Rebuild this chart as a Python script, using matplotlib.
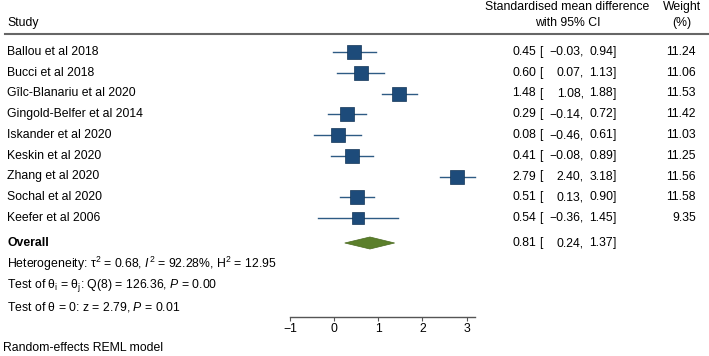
import matplotlib
matplotlib.use("Agg")
import matplotlib.pyplot as plt

plt.rcParams['font.family'] = ['Liberation Sans', 'DejaVu Sans']
plt.rcParams['mathtext.fontset'] = 'custom'
plt.rcParams['mathtext.rm'] = 'Liberation Sans'
plt.rcParams['mathtext.it'] = 'Liberation Sans:italic'
plt.rcParams['mathtext.bf'] = 'Liberation Sans:bold'

# data
studies = ["Ballou et al 2018", "Bucci et al 2018", "Gîlc-Blanariu et al 2020",
           "Gingold-Belfer et al 2014", "Iskander et al 2020", "Keskin et al 2020",
           "Zhang et al 2020", "Sochal et al 2020", "Keefer et al 2006"]
smd = [0.45, 0.60, 1.48, 0.29, 0.08, 0.41, 2.79, 0.51, 0.54]
lo = [-0.03, 0.07, 1.08, -0.14, -0.46, -0.08, 2.40, 0.13, -0.36]
hi = [0.94, 1.13, 1.88, 0.72, 0.61, 0.89, 3.18, 0.90, 1.45]
weight = [11.24, 11.06, 11.53, 11.42, 11.03, 11.25, 11.56, 11.58, 9.35]
overall = (0.81, 0.24, 1.37)
xticks = [-1, 0, 1, 2, 3]

FS = 8.8
W, H = 709, 356
fig = plt.figure(figsize=(W / 100, H / 100), dpi=100)

# background axes in pixel coords for the table text
bg = fig.add_axes([0, 0, 1, 1])
bg.set_xlim(0, W)
bg.set_ylim(H, 0)
bg.axis('off')

# plot axes: x from -1 to ~3.2, pixel 290..475; rows from pixel 40..317
top, bot = 40, 317
ax = fig.add_axes([290 / W, (H - bot) / H, (475 - 290) / W, (bot - top) / H])
ax.set_xlim(-1, 3.19)
row0, step = 52, 20.75
ax.set_ylim((bot - row0) / step, (top - row0) / step)
ax.patch.set_visible(False)
for s in ['top', 'right', 'left']:
    ax.spines[s].set_visible(False)
ax.spines['bottom'].set_color('#555555')
ax.spines['bottom'].set_linewidth(1.0)
ax.set_yticks([])
ax.set_xticks(xticks)
ax.set_xticklabels(['\u22121' if t < 0 else str(t) for t in xticks])
ax.tick_params(axis='x', length=3, width=0.8, color='#555555', labelsize=FS, pad=1.5)

blue = '#1d4b7a'
for i in range(len(studies)):
    ax.plot([lo[i], hi[i]], [i, i], color='#2e5b84', lw=1.0, zorder=2, clip_on=False)
    ax.plot(smd[i], i, marker='s', ms=10.2 * (weight[i] / 11.58) ** 0.5,
            mfc=blue, mec='#123457', mew=0.5, zorder=3, clip_on=False)

oy = (243 - row0) / step
est, olo, ohi = overall
ax.fill([olo, est, ohi, est], [oy, oy - 0.29, oy, oy + 0.29],
        color='#5b7f2b', ec='#4a6a20', lw=0.5, zorder=3, clip_on=False)

# header
bg.text(7, 23, "Study", fontsize=FS, va='center')
bg.text(567, 7, "Standardised mean difference", fontsize=FS, va='center', ha='center')
bg.text(568, 23, "with 95% CI", fontsize=FS, va='center', ha='center')
bg.text(682, 7, "Weight", fontsize=FS, va='center', ha='center')
bg.text(682, 23, "(%)", fontsize=FS, va='center', ha='center')
bg.plot([5, W], [33.5, 33.5], color='#666666', lw=1.5)


def fmt(v):
    return f"{v:.2f}".replace('-', '\u2212')


def ci_row(y, e, l, h):
    bg.text(536, y, fmt(e), fontsize=FS, va='center', ha='right')
    bg.text(539, y, "[", fontsize=FS, va='center', ha='left')
    bg.text(584, y, fmt(l) + ",", fontsize=FS, va='center', ha='right')
    bg.text(613, y, fmt(h), fontsize=FS, va='center', ha='right')
    bg.text(613, y, "]", fontsize=FS, va='center', ha='left')


for i, name in enumerate(studies):
    y = row0 + step * i
    bg.text(7, y, name, fontsize=FS, va='center')
    ci_row(y, smd[i], lo[i], hi[i])
    bg.text(696, y, f"{weight[i]:.2f}", fontsize=FS, va='center', ha='right')

bg.text(7, 243, "Overall", fontsize=FS, va='center', fontweight='bold')
ci_row(243, est, olo, ohi)

bg.text(7, 264, r"Heterogeneity: $\mathrm{\tau}^{2}$ = 0.68, $I^{2}$ = 92.28%, H$^{2}$ = 12.95",
        fontsize=FS, va='center')
bg.text(7, 286, r"Test of $\mathrm{\theta_{i}}$ = $\mathrm{\theta_{j}}$: Q(8) = 126.36, $P$ = 0.00",
        fontsize=FS, va='center')
bg.text(7, 307, r"Test of $\mathrm{\theta}$ = 0: z = 2.79, $P$ = 0.01",
        fontsize=FS, va='center')
bg.text(3, 348, "Random-effects REML model", fontsize=FS, va='center')

fig.savefig("out.png", dpi=100)
